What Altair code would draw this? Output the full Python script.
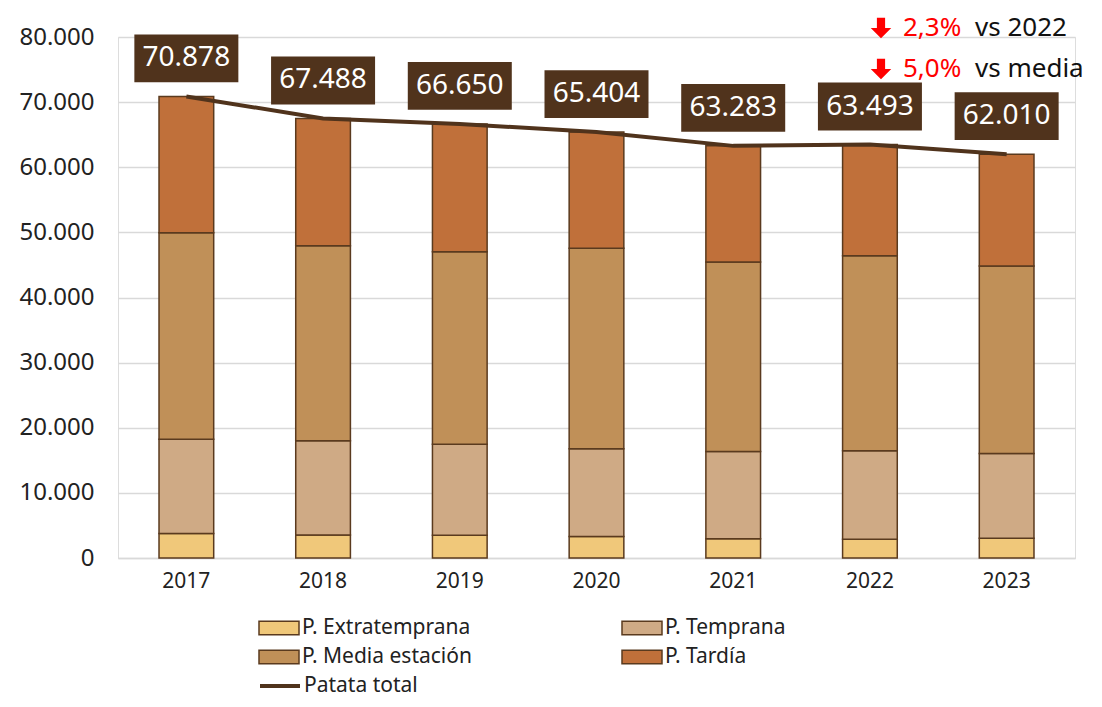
import altair as alt
import pandas as pd

years = ["2017", "2018", "2019", "2020", "2021", "2022", "2023"]
extratemprana = [3780, 3540, 3480, 3290, 2970, 2870, 3020]
temprana = [14470, 14460, 14000, 13500, 13380, 13590, 13030]
media_estacion = [31690, 29950, 29550, 30760, 29100, 29940, 28780]
tardia = [20938, 19538, 19620, 17854, 17833, 17093, 17180]
total = [70878, 67488, 66650, 65404, 63283, 63493, 62010]

series = ["P. Extratemprana", "P. Temprana", "P. Media estación", "P. Tardía"]
colors = ["#f0c87a", "#cfaa85", "#c09058", "#c0703a"]
# legend is laid out column by column: order so rows read Extratemprana/Temprana, Media/Tardía
legend_order = [0, 2, 1, 3]
line_name = "Patata total"
line_color = "#50331c"

ann_pct = ["2,3%", "5,0%"]
ann_txt = ["vs 2022", "vs media"]

rows = []
for i, y in enumerate(years):
    for k, vals in enumerate([extratemprana, temprana, media_estacion, tardia]):
        rows.append({"year": y, "serie": series[k], "orden": k, "valor": vals[i]})
bars_df = pd.DataFrame(rows)
tot_df = pd.DataFrame({"year": years, "total": total, "serie": [line_name] * len(years)})
ann_df = pd.DataFrame({"pct": ann_pct, "txt": ann_txt, "row": [0, 1]})

FONT = "Noto Sans"
rect_path = "M-1,-0.34L1,-0.34L1,0.34L-1,0.34Z"
box_path = "M-1,-0.46L1,-0.46L1,0.46L-1,0.46Z"
arrow_path = "M-0.4,-1L0.4,-1L0.4,0L1,0L0,1L-1,0L-0.4,0Z"

x_enc = alt.X("year:N", title=None, sort=years,
              scale=alt.Scale(paddingInner=0.6, paddingOuter=0.3),
              axis=alt.Axis(labelFontSize=21, labelFont=FONT, labelColor="#222222",
                            ticks=False, domain=True, domainColor="#d9d9d9",
                            domainWidth=1.5, labelPadding=12, labelAngle=0))

bars = alt.Chart(bars_df).mark_bar(stroke="#5a3a1e", strokeWidth=1.5).encode(
    x=x_enc,
    y=alt.Y("valor:Q", stack="zero", title=None,
            scale=alt.Scale(domain=[0, 80000], nice=False),
            axis=alt.Axis(values=list(range(0, 80001, 10000)), format=",d",
                          labelFontSize=24, labelFont=FONT, labelColor="#222222",
                          ticks=False, domain=False, gridColor="#d9d9d9",
                          gridWidth=1.5, labelPadding=24)),
    color=alt.Color("serie:N",
                    scale=alt.Scale(domain=[series[j] for j in legend_order],
                                    range=[colors[j] for j in legend_order]),
                    legend=alt.Legend(title=None, orient="none", legendX=140, legendY=578,
                                      columns=2, columnPadding=149, rowPadding=3,
                                      clipHeight=26,
                                      symbolType=rect_path, symbolSize=1600,
                                      symbolStrokeColor="#5a3a1e", symbolStrokeWidth=1.5,
                                      labelFontSize=21, labelFont=FONT, labelColor="#222222",
                                      labelOffset=2, labelLimit=400, padding=0)),
    order=alt.Order("orden:Q", sort="ascending"),
)

line = alt.Chart(tot_df).mark_line(strokeWidth=4).encode(
    x=alt.X("year:N", sort=years),
    y=alt.Y("total:Q"),
    stroke=alt.Stroke("serie:N", scale=alt.Scale(domain=[line_name], range=[line_color]),
                      legend=alt.Legend(title=None, orient="none", legendX=140, legendY=636,
                                        clipHeight=26,
                                        symbolType="stroke", symbolSize=1600,
                                        symbolStrokeWidth=4,
                                        labelFontSize=21, labelFont=FONT, labelColor="#222222",
                                        labelOffset=2, labelLimit=400, padding=0)),
)

boxes = alt.Chart(tot_df).mark_point(shape=box_path, filled=True, opacity=1,
                                     color=line_color, size=10816, yOffset=-38).encode(
    x=alt.X("year:N", sort=years),
    y=alt.Y("total:Q"),
)

labels = alt.Chart(tot_df).mark_text(font=FONT, fontSize=28, color="white",
                                     yOffset=-38, baseline="middle").encode(
    x=alt.X("year:N", sort=years),
    y=alt.Y("total:Q"),
    text=alt.Text("total:Q", format=",d"),
)

arrows = alt.Chart(ann_df).mark_point(shape=arrow_path, filled=True, opacity=1,
                                      color="#ff0000", size=420).encode(
    x=alt.value(763),
    y=alt.Y("row:Q", scale=alt.Scale(domain=[0, 1], range=[-9, 32]), axis=None),
)
pct_text = alt.Chart(ann_df).mark_text(font=FONT, fontSize=26, color="#ff0000",
                                       align="left", baseline="middle").encode(
    x=alt.value(785),
    y=alt.Y("row:Q", scale=alt.Scale(domain=[0, 1], range=[-7, 34]), axis=None),
    text="pct:N",
)
vs_text = alt.Chart(ann_df).mark_text(font=FONT, fontSize=26, color="#111111",
                                      align="left", baseline="middle").encode(
    x=alt.value(857),
    y=alt.Y("row:Q", scale=alt.Scale(domain=[0, 1], range=[-7, 34]), axis=None),
    text="txt:N",
)

main = alt.layer(bars, line, boxes, labels)
ann = alt.layer(arrows, pct_text, vs_text)

chart = alt.layer(main, ann).resolve_scale(y="independent", color="independent",
                                          stroke="independent").properties(
    width=957, height=521,
    autosize=alt.AutoSizeParams(type="none"),
    padding={"left": 110, "top": 29, "right": 19, "bottom": 141},
).configure_view(stroke=None).configure(font=FONT)

chart.save("out.html", embed_options={
    "renderer": "svg", "actions": False,
    "formatLocale": {"decimal": ",", "thousands": ".", "grouping": [3],
                     "currency": ["", "\u20ac"]},
})
